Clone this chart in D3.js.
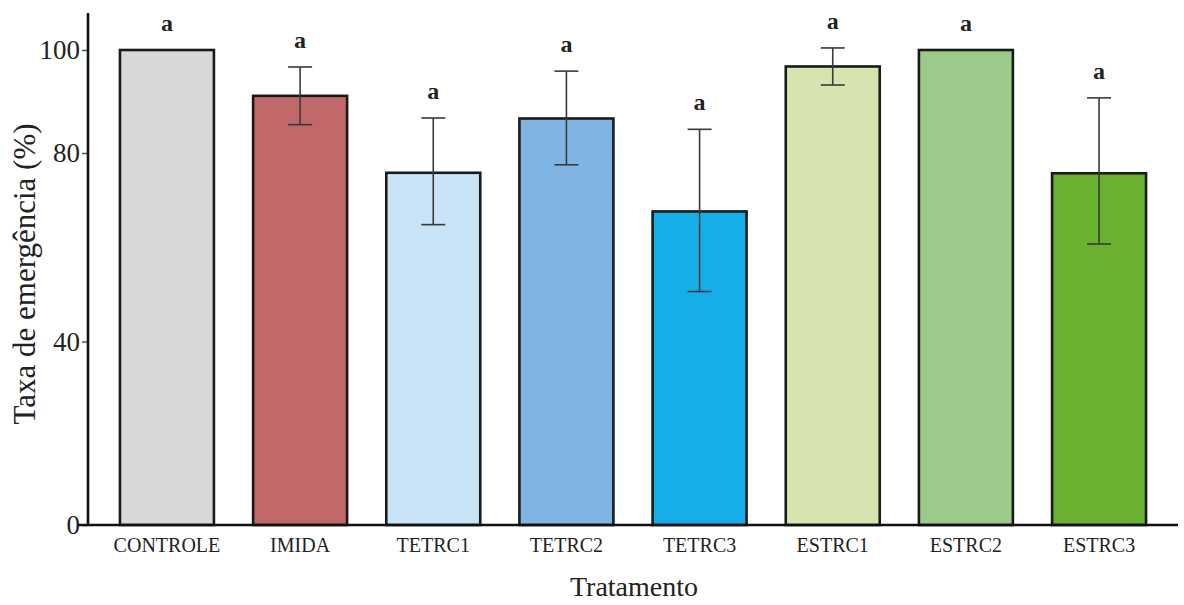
<!DOCTYPE html>
<html>
<head>
<meta charset="utf-8">
<script src="https://cdn.jsdelivr.net/npm/d3@7/dist/d3.min.js"></script>
<style>
  html, body { margin: 0; padding: 0; background: #fff; }
  svg { display: block; }
  text { font-family: "Liberation Serif", "DejaVu Serif", serif; fill: #222; }
</style>
</head>
<body>
<svg id="chart" width="1184" height="605"></svg>
<script>
// Treatments and mean emergence rate (%) with error bar half-widths
const categories = ["CONTROLE", "IMIDA", "TETRC1", "TETRC2", "TETRC3", "ESTRC1", "ESTRC2", "ESTRC3"];
const means = [100, 91.1, 75.8, 86.7, 67.6, 96.8, 100, 75.7];
const errors = [0, 5.6, 11, 9.2, 17, 3.6, 0, 15];
const letters = ["a", "a", "a", "a", "a", "a", "a", "a"];
const colors = ["#d8d8d8", "#c0686a", "#c9e4f7", "#80b5e3", "#15aee8", "#d6e5b0", "#9bca8b", "#6ab12f"];
const yTicks = [0, 40, 80, 100];

const svg = d3.select("#chart");

// Value axis: tick spacing follows the printed axis
const y = d3.scaleLinear()
  .domain([0, 40, 80, 100])
  .range([525, 341.5, 153, 50]);

const x = d3.scaleBand()
  .domain(categories)
  .range([88, 1178])
  .paddingInner(0.2943)
  .paddingOuter(0.24);

// Bars
svg.append("g")
  .selectAll("rect")
  .data(categories)
  .join("rect")
  .attr("x", d => x(d))
  .attr("y", (d, i) => y(means[i]))
  .attr("width", x.bandwidth())
  .attr("height", (d, i) => y(0) - y(means[i]))
  .attr("fill", (d, i) => colors[i])
  .attr("stroke", "#1a1a1a")
  .attr("stroke-width", 2.6);

// Error bars
const eb = svg.append("g")
  .attr("stroke", "#3a3a3a")
  .attr("stroke-width", 1.6)
  .selectAll("g")
  .data(categories.map((c, i) => ({ c, m: means[i], e: errors[i] })).filter(d => d.e > 0))
  .join("g");
const cx = d => x(d.c) + x.bandwidth() / 2;
eb.append("line")
  .attr("x1", cx).attr("x2", cx)
  .attr("y1", d => y(d.m + d.e)).attr("y2", d => y(d.m - d.e));
eb.append("line")
  .attr("x1", d => cx(d) - 12).attr("x2", d => cx(d) + 12)
  .attr("y1", d => y(d.m + d.e)).attr("y2", d => y(d.m + d.e));
eb.append("line")
  .attr("x1", d => cx(d) - 12).attr("x2", d => cx(d) + 12)
  .attr("y1", d => y(d.m - d.e)).attr("y2", d => y(d.m - d.e));

// Significance letters
svg.append("g")
  .selectAll("text")
  .data(categories)
  .join("text")
  .attr("x", d => x(d) + x.bandwidth() / 2)
  .attr("y", (d, i) => y(means[i] + errors[i]) - 19)
  .attr("text-anchor", "middle")
  .attr("font-size", 24)
  .attr("font-weight", "bold")
  .attr("fill", "#2a2a2a")
  .text((d, i) => letters[i]);

// Y axis
const yAxis = svg.append("g")
  .attr("transform", "translate(88,0)")
  .call(d3.axisLeft(y).tickValues(yTicks).tickSize(6).tickPadding(2).tickFormat(d3.format("d")));
yAxis.select(".domain").remove();
yAxis.selectAll(".tick line").attr("stroke", "#555").attr("stroke-width", 1.5);
yAxis.selectAll(".tick text")
  .attr("font-size", 27)
  .attr("fill", "#2a2a2a")
  .attr("font-family", "Liberation Serif, serif");
svg.append("line")
  .attr("x1", 88).attr("x2", 88)
  .attr("y1", 13).attr("y2", y(0) + 1)
  .attr("stroke", "#111").attr("stroke-width", 2.6);

// X axis
const xAxis = svg.append("g")
  .attr("transform", `translate(0,${y(0)})`)
  .call(d3.axisBottom(x).tickSize(0).tickPadding(13));
xAxis.select(".domain").remove();
xAxis.selectAll(".tick text")
  .attr("font-size", 20)
  .attr("fill", "#2a2a2a")
  .attr("font-family", "Liberation Serif, serif");
svg.append("line")
  .attr("x1", 78).attr("x2", 1178)
  .attr("y1", y(0)).attr("y2", y(0))
  .attr("stroke", "#111").attr("stroke-width", 2.6);

// Axis titles
svg.append("text")
  .attr("x", 634).attr("y", 596)
  .attr("text-anchor", "middle")
  .attr("font-size", 28)
  .text("Tratamento");

svg.append("text")
  .attr("transform", "translate(35,274) rotate(-90)")
  .attr("text-anchor", "middle")
  .attr("font-size", 31)
  .text("Taxa de emergência (%)");
</script>
</body>
</html>
